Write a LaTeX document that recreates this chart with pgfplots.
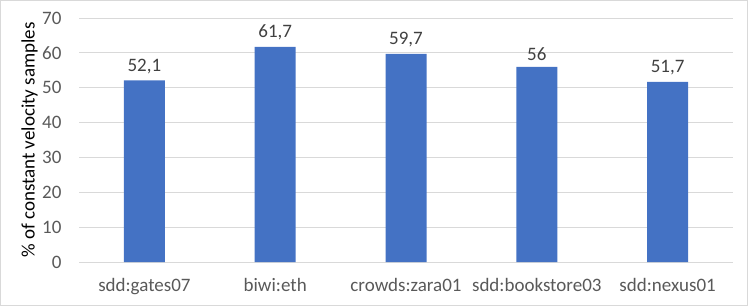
\documentclass[border=0pt]{standalone}
\usepackage{pgfplots}
\pgfplotsset{compat=1.18}
\usepackage{fontspec}
\setmainfont{Carlito}
\definecolor{barblue}{HTML}{4472C4}
\definecolor{ticktxt}{HTML}{595959}
\definecolor{lbltxt}{HTML}{404040}
\definecolor{gridc}{HTML}{D9D9D9}
\begin{document}
\begin{tikzpicture}[x=1bp,y=1bp]
\useasboundingbox (0,0) rectangle (748,306);
\draw[gridc, line width=1bp] (0.5,0.5) rectangle (747.5,305.5);
\begin{axis}[
  at={(79bp,44bp)}, anchor=south west,
  scale only axis, width=654bp, height=244bp,
  ymin=0, ymax=70, ytick={0,10,...,70},
  xmin=-0.5, xmax=4.5,
  xtick={0,1,2,3,4},
  xticklabels={sdd:gates07, biwi:eth, crowds:zara01, sdd:bookstore03, sdd:nexus01},
  ybar, bar width=41bp,
  axis x line*=bottom,
  axis y line*=left,
  axis line style={draw=none},
  ymajorgrids, grid style={gridc, line width=1bp},
  major tick length=0pt,
  tick style={draw=none},
  font=\fontsize{19bp}{22bp}\selectfont,
  ticklabel style={text=ticktxt, font=\fontsize{19bp}{22bp}\selectfont},
  /pgf/number format/assume math mode=true,
  yticklabel style={xshift=-14bp},
  xticklabel style={yshift=-13bp},
  ylabel={\% of constant velocity samples},
  ylabel style={text=ticktxt, font=\fontsize{19bp}{22bp}\selectfont},
  every axis y label/.style={at={(axis description cs:-0.0755,0.5)}, anchor=center, rotate=90},
  nodes near coords,
  nodes near coords style={text=lbltxt, font=\fontsize{19bp}{22bp}\selectfont, yshift=3bp},
  point meta=explicit symbolic,
  clip=false,
]
\draw[gridc, line width=1bp] (axis cs:-0.5,0) -- (axis cs:4.5,0);
\addplot[fill=barblue, draw=none] coordinates {
  (0,52.1) [52,1]
  (1,61.7) [61,7]
  (2,59.7) [59,7]
  (3,56.0) [56]
  (4,51.7) [51,7]
};
\end{axis}
\end{tikzpicture}
\end{document}
